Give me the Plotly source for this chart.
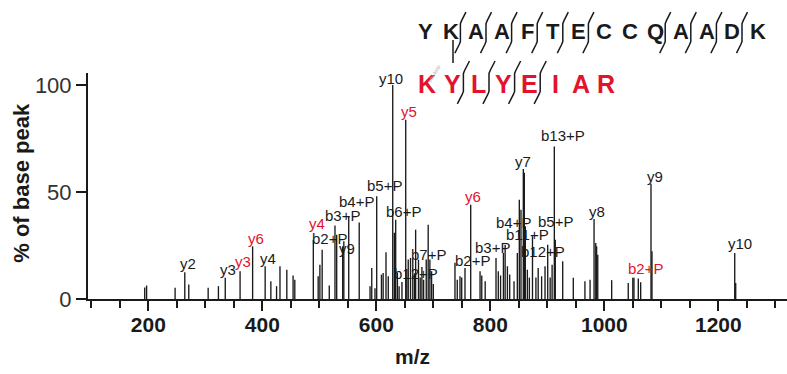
import plotly.graph_objects as go

# ---------------- data ----------------
mz = [193.7, 197.0, 247.0, 264.0, 271.0, 305.0, 323.0, 335.0, 361.0, 383.0,
      405.0, 415.0, 425.0, 431.0, 443.0, 454.0, 457.0,
      489.5, 498.0, 501.0, 505.0, 517.5, 527.5, 530.5, 541.0, 543.0,
      551.6, 570.0, 589.0, 592.0, 597.7, 600.7, 609.0, 612.0, 617.0, 621.0,
      628.8, 631.6, 634.0, 637.0, 640.0, 645.0, 651.6, 653.5, 656.0, 660.0,
      664.0, 667.0, 669.0, 674.0, 677.0, 680.0, 683.0, 687.6, 691.0, 694.0,
      697.0, 700.0,
      738.0, 742.0, 746.8, 749.8, 755.6, 765.6, 782.0, 785.0, 791.0, 810.0,
      814.0, 818.0, 823.0, 826.0, 830.0, 834.0, 841.6, 847.4, 850.9, 853.8,
      857.9, 859.7, 861.4, 865.0, 868.5, 874.0, 880.0, 884.0, 890.0, 896.0,
      900.7, 905.0, 908.4, 912.3, 914.0, 927.0, 945.6, 966.0, 975.0, 982.0,
      985.0, 986.5, 988.5, 1012.9, 1042.0, 1050.0, 1052.0, 1059.6, 1063.8,
      1081.9, 1083.6, 1228.8, 1230.5]
intensity = [5.4, 6.3, 5.2, 12.5, 6.8, 5.2, 6.0, 9.9, 13.0, 24.6,
             15.3, 8.3, 6.0, 15.3, 13.7, 11.0, 9.0,
             27.7, 10.6, 16.0, 23.0, 6.3, 34.4, 30.0, 24.6, 27.0,
             38.6, 35.8, 6.0, 14.5, 5.0, 48.0, 11.4, 12.2, 21.8, 10.6,
             100.0, 30.9, 37.0, 12.4, 6.0, 8.0, 83.7, 10.0, 18.4, 19.2,
             18.4, 12.0, 32.4, 18.4, 10.0, 15.0, 9.0, 18.4, 34.7, 18.4,
             13.0, 7.0,
             16.9, 9.0, 10.6, 10.0, 14.5, 44.0, 13.0, 11.0, 8.3, 19.2,
             13.0, 11.0, 21.5, 25.4, 15.3, 11.4, 8.3, 21.5, 46.4, 41.7,
             60.7, 59.0, 34.0, 13.7, 10.0, 29.3, 10.0, 14.5, 10.6, 15.3,
             25.4, 10.0, 16.0, 71.2, 27.7, 17.6, 9.9, 8.3, 9.0, 37.4,
             26.2, 24.6, 20.7, 8.8, 7.5, 9.9, 9.9, 9.6, 7.8,
             53.8, 22.3, 21.5, 7.5]

# fragment-ion labels: text, chain (alpha = black, beta = red), anchor m/z, anchor %
label_text = ["y2", "y3", "y3", "y6", "y4", "y4", "b2+P", "b3+P", "y9", "b4+P",
              "b5+P", "y10", "y5", "b6+P", "b7+P", "b12+P", "b2+P", "y6", "b3+P",
              "b4+P", "b11+P", "b12+P", "b5+P", "y7", "b13+P", "y8", "y9", "b2+P", "y10"]
label_chain = ["a", "a", "b", "b", "a", "b", "a", "a", "a", "a",
               "a", "a", "b", "a", "a", "a", "a", "b", "a",
               "a", "a", "a", "a", "a", "a", "a", "a", "b", "a"]
label_mz = [269.0, 339.3, 366.7, 388.4, 410.5, 495.4, 517.0, 540.4, 548.0, 564.4,
            613.5, 625.3, 657.9, 647.4, 691.2, 669.6, 767.9, 769.6, 803.0,
            839.8, 866.1, 892.5, 913.5, 857.4, 927.5, 987.2, 1088.9, 1071.4, 1237.9]
label_int = [16.6, 13.8, 17.3, 28.2, 18.9, 35.2, 28.5, 39.1, 23.5, 45.6,
             52.9, 102.8, 87.6, 40.9, 20.7, 11.7, 17.9, 47.8, 24.0,
             35.7, 30.1, 22.1, 36.1, 64.1, 76.2, 40.8, 57.1, 14.2, 25.9]

seq_alpha = "YKAAFTECCQAADK"
seq_beta = "KYLYEIAR"
cleave_alpha = [1, 2, 3, 4, 5, 6, 9, 10, 11, 12]   # marker after residue index
cleave_beta = [1, 2, 3, 4]

x_ticks = [200, 400, 600, 800, 1000, 1200]
y_ticks = [0, 50, 100]

# ---------------- figure ----------------
RED = "#e3132d"
INK = "#1a1a1a"
W, H = 787, 374
ML, MR, MT, MB = 88, 0, 73, 74.5
PW, PH = W - ML - MR, H - MT - MB


def pxx(x):
    return (x - ML) / PW


def pxy(y):
    return (H - MB - y) / PH


xs, ys = [], []
for m, v in zip(mz, intensity):
    xs += [m, m, None]
    ys += [0, v, None]

fig = go.Figure()
fig.add_trace(go.Scatter(x=xs, y=ys, mode="lines",
                         line=dict(color=INK, width=1.35),
                         hoverinfo="skip", showlegend=False))

ann = []
for t, c, m, v in zip(label_text, label_chain, label_mz, label_int):
    ann.append(dict(x=m, y=v, xref="x", yref="y", text=t, showarrow=False,
                    font=dict(family="Liberation Sans", size=15,
                              color=RED if c == "b" else INK),
                    xanchor="center", yanchor="middle"))

# axis titles
ann.append(dict(x=pxx(412), y=pxy(357), xref="paper", yref="paper", text="m/z",
                showarrow=False, xanchor="center", yanchor="middle",
                font=dict(family="Liberation Sans", size=21, color=INK,
                          weight="bold")))
ann.append(dict(x=pxx(22), y=pxy(183), xref="paper", yref="paper",
                text="% of base peak", textangle=-90, showarrow=False,
                xanchor="center", yanchor="middle",
                font=dict(family="Liberation Sans", size=22, color=INK,
                          weight="bold")))

# peptide sequences
step = 25.6
shapes = []
for i, ch in enumerate(seq_alpha):
    ann.append(dict(x=pxx(425 + step * i), y=pxy(31), xref="paper", yref="paper",
                    text=ch, showarrow=False, xanchor="center", yanchor="middle",
                    font=dict(family="Liberation Sans", size=22, color=INK,
                              weight="bold")))
for i, ch in enumerate(seq_beta):
    ann.append(dict(x=pxx(427 + step * i), y=pxy(84), xref="paper", yref="paper",
                    text=ch, showarrow=False, xanchor="center", yanchor="middle",
                    font=dict(family="Liberation Sans", size=25, color=RED,
                              weight="bold")))


def marker(xc, y_top, y_bot, hook):
    pts = [(xc + hook * 0.55, y_top - hook), (xc + 1.2, y_top - 1.5),
           (xc, y_top + 1.5), (xc, y_bot - 1.5), (xc - 1.2, y_bot + 1.5),
           (xc - hook * 0.55, y_bot + hook)]
    path = "M " + " L ".join(f"{pxx(a)},{pxy(b)}" for a, b in pts)
    return dict(type="path", path=path, xref="paper", yref="paper",
                line=dict(color=INK, width=1.5))


for i in cleave_alpha:
    xc = 425 + step * (i + 0.5) - 3
    shapes.append(marker(xc, 22, 43, 10))
for i in cleave_beta:
    xc = 427 + step * (i + 0.5) - 2
    shapes.append(marker(xc, 72, 93, 11))

# cross-link connector
shapes.append(dict(type="line", xref="paper", yref="paper",
                   x0=pxx(453), x1=pxx(453), y0=pxy(40), y1=pxy(63),
                   line=dict(color=INK, width=1.5)))

ann.append(dict(x=pxx(434), y=pxy(62), xref="paper", yref="paper", text="sda-loop",
                textangle=-60, showarrow=False,
                font=dict(family="Liberation Sans", size=5, color="#b0b0b0")))

fig.update_layout(
    width=W, height=H,
    margin=dict(l=ML, r=MR, t=MT, b=MB, pad=0),
    paper_bgcolor="white", plot_bgcolor="white",
    annotations=ann, shapes=shapes,
    xaxis=dict(range=[94.2, 1320.5], tickvals=x_ticks, ticks="outside",
               ticklen=10, tickwidth=1.5, tickcolor=INK,
               showline=True, linecolor=INK, linewidth=2,
               showgrid=False, zeroline=False, ticklabelstandoff=-4,
               tickfont=dict(family="Liberation Sans", size=21, color=INK,
                             weight="bold"),
               minor=dict(dtick=50, tick0=0, ticks="outside", ticklen=7,
                          tickwidth=1.5, tickcolor=INK, showgrid=False)),
    yaxis=dict(range=[0, 105.6], tickvals=y_ticks, ticks="outside",
               ticklen=10, tickwidth=1.5, tickcolor=INK,
               showline=True, linecolor=INK, linewidth=2,
               showgrid=False, zeroline=False,
               tickfont=dict(family="Liberation Sans", size=22, color="#333")),
)

fig.write_html("out.html")
